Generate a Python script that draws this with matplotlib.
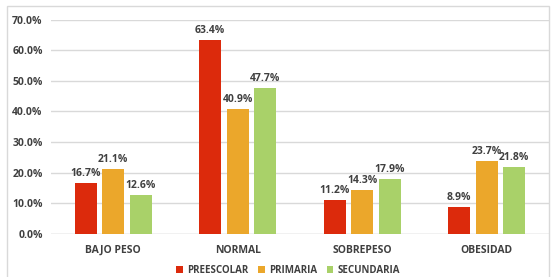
import matplotlib

matplotlib.use("Agg")
import matplotlib.pyplot as plt
import numpy as np
from matplotlib.patches import Rectangle
from matplotlib.ticker import PercentFormatter

categories = ["BAJO PESO", "NORMAL", "SOBREPESO", "OBESIDAD"]
series_names = ["PREESCOLAR", "PRIMARIA", "SECUNDARIA"]
preescolar = [16.7, 63.4, 11.2, 8.9]
primaria = [21.1, 40.9, 14.3, 23.7]
secundaria = [12.6, 47.7, 17.9, 21.8]
colors = ["#DC2A0C", "#EBA72B", "#A9D169"]

plt.rcParams["font.family"] = ["Open Sans", "DejaVu Sans"]
plt.rcParams["font.weight"] = "bold"
text_color = "#404040"

fig = plt.figure(figsize=(5.52, 2.77), dpi=100)
ax = fig.add_axes([0.0924, 0.1552, 0.9022, 0.7744])

x = np.arange(len(categories))
step = 0.221
width = 0.177
for i, (vals, name) in enumerate(zip([preescolar, primaria, secundaria], series_names)):
    pos = x + (i - 1) * step
    bars = ax.bar(pos, vals, width, color=colors[i], label=name, zorder=3)
    for b, v in zip(bars, vals):
        ax.text(b.get_x() + b.get_width() / 2, v + 1.3, f"{v:.1f}%",
                ha="center", va="bottom", fontsize=7.5, fontweight="bold",
                color=text_color)

ax.set_xlim(-0.5, len(categories) - 0.5)
ax.set_ylim(0, 70)
ax.set_yticks(np.arange(0, 71, 10))
ax.yaxis.set_major_formatter(PercentFormatter(decimals=1))
ax.set_xticks(x)
ax.set_xticklabels(categories)
ax.tick_params(axis="both", length=0, labelsize=7.5, colors=text_color, pad=8)
ax.tick_params(axis="y", pad=6)
for lbl in ax.get_xticklabels() + ax.get_yticklabels():
    lbl.set_fontweight("bold")
ax.grid(axis="y", color="#D9D9D9", linewidth=1, zorder=0)
for s in ax.spines.values():
    s.set_visible(False)
ax.axhline(0, color="#D9D9D9", linewidth=1, zorder=1)

leg = fig.legend(loc="center", bbox_to_anchor=(0.522, 0.025), ncol=3, frameon=False,
                 fontsize=7, handlelength=0.7, handleheight=0.7, handletextpad=0.4,
                 columnspacing=1.0)
for t in leg.get_texts():
    t.set_color(text_color)

fig.patches.append(Rectangle((0.012, -0.05), 0.983, 1.028, transform=fig.transFigure,
                             fill=False, edgecolor="#D9D9D9", linewidth=1))

fig.savefig("out.png", dpi=100, facecolor="white")
plt.close(fig)
